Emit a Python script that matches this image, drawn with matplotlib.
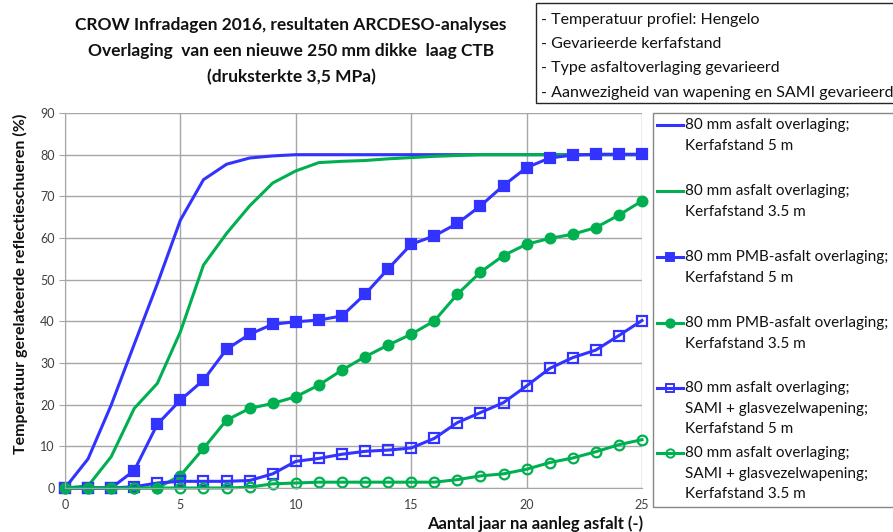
import matplotlib
matplotlib.use("Agg")
import matplotlib.pyplot as plt
from matplotlib.lines import Line2D
from matplotlib.patches import Rectangle

plt.rcParams['font.family'] = ['Lato', 'DejaVu Sans']

# data
years = list(range(26))
asf_5 = [0, 7.0, 19.9, 34.5, 49.0, 64.3, 74.0, 77.7, 79.2, 79.7, 80.0, 80.0, 80.0,
         80.0, 80.0, 80.0, 80.0, 80.0, 80.0, 80.0, 80.0, 80.0, 80.0, 80.0, 80.0, 80.0]
asf_35 = [0, 0.5, 7.5, 19.1, 25.1, 37.5, 53.5, 61.1, 67.7, 73.2, 76.1, 78.1, 78.4,
          78.6, 79.0, 79.3, 79.6, 79.8, 80.0, 80.0, 80.0, 80.0, 80.0, 80.0, 80.0, 80.0]
pmb_5 = [0, 0, 0, 4.2, 15.3, 21.1, 25.9, 33.3, 36.9, 39.3, 39.9, 40.3, 41.3,
         46.5, 52.6, 58.5, 60.5, 63.5, 67.7, 72.6, 76.9, 79.2, 79.9, 80.1, 80.1, 80.1]
pmb_35 = [0, 0, 0, 0, 0, 3.0, 9.5, 16.3, 19.1, 20.3, 21.9, 24.7, 28.3,
          31.5, 34.3, 36.9, 40.1, 46.5, 51.8, 55.8, 58.5, 59.9, 60.9, 62.5, 65.5, 68.9]
sami_5 = [0, 0, 0, 0.3, 1.2, 1.6, 1.6, 1.6, 1.8, 3.4, 6.4, 7.1, 8.1,
          8.8, 9.1, 9.6, 11.9, 15.7, 18.1, 20.5, 24.5, 28.7, 31.3, 33.1, 36.6, 40.2]
sami_35 = [0, 0, 0, 0, 0, 0, 0, 0, 0.2, 1.0, 1.2, 1.4, 1.4,
           1.4, 1.4, 1.4, 1.4, 2.0, 2.9, 3.4, 4.5, 6.1, 7.2, 8.7, 10.4, 11.6]

labels = ["80 mm asfalt overlaging;\nKerfafstand 5 m",
          "80 mm asfalt overlaging;\nKerfafstand 3.5 m",
          "80 mm PMB-asfalt overlaging;\nKerfafstand 5 m",
          "80 mm PMB-asfalt overlaging;\nKerfafstand 3.5 m",
          "80 mm asfalt overlaging;\nSAMI + glasvezelwapening;\nKerfafstand 5 m",
          "80 mm asfalt overlaging;\nSAMI + glasvezelwapening;\nKerfafstand 3.5 m"]
notes = ["- Temperatuur profiel: Hengelo",
         "- Gevarieerde kerfafstand",
         "- Type asfaltoverlaging gevarieerd",
         "- Aanwezigheid van wapening en SAMI gevarieerd"]
title_lines = ["CROW Infradagen 2016, resultaten ARCDESO-analyses",
               "Overlaging  van een nieuwe 250 mm dikke  laag CTB",
               "(druksterkte 3,5 MPa)"]

BLUE = '#3333FF'
GREEN = '#00B050'
styles = [(asf_5, BLUE, None, None),
          (asf_35, GREEN, None, None),
          (pmb_5, BLUE, 's', BLUE),
          (pmb_35, GREEN, 'o', GREEN),
          (sami_5, BLUE, 's', 'none'),
          (sami_35, GREEN, 'o', 'none')]

W, H = 893, 532
fig = plt.figure(figsize=(W / 100, H / 100), dpi=100)

def fx(px):
    return px / W

def fy(py):
    return 1 - py / H

ax = fig.add_axes([fx(65), fy(488), fx(642) - fx(65), fy(113) - fy(488)])

for vals, col, mk, fc in styles:
    ax.plot(years, vals, color=col, lw=2.2, marker=mk, markersize=7,
            markerfacecolor=fc, markeredgecolor=col, markeredgewidth=1.6,
            clip_on=False)

ax.set_xlim(0, 25)
ax.set_ylim(0, 90)
ax.set_xticks(range(0, 26, 5))
ax.set_yticks(range(0, 91, 10))
ax.grid(True, color='#A6A6A6', lw=1)
ax.set_axisbelow(True)
for s in ['top', 'right']:
    ax.spines[s].set_visible(False)
for s in ['left', 'bottom']:
    ax.spines[s].set_color('#A6A6A6')
ax.tick_params(axis='both', colors='#A6A6A6', labelcolor='#404040',
               labelsize=9, length=4)
ax.tick_params(axis='x', length=0, pad=8)

# title and axis labels
for i, t in enumerate(title_lines):
    fig.text(fx(291), fy(25 + 26 * i), t, ha='center', va='center',
             fontsize=12.5, fontweight='bold', color='#111111')
fig.text(fx(535), fy(524), "Aantal jaar na aanleg asfalt (-)", ha='center',
         va='center', fontsize=12, fontweight='bold', color='#111111')
fig.text(fx(20), fy(284), "Temperatuur gerelateerde reflectieschueren (%)",
         ha='center', va='center', rotation=90, fontsize=11.5,
         fontweight='bold', color='#111111')

# notes box
fig.add_artist(Rectangle((fx(536), fy(103)), fx(400), fy(3) - fy(103),
                         transform=fig.transFigure, fill=False,
                         edgecolor='#262626', lw=1))
for i, t in enumerate(notes):
    fig.text(fx(541), fy(20 + 24.2 * i), t, ha='left', va='center',
             fontsize=11.5, color='#111111')

# legend drawn by hand, handle next to first line of each entry
fig.add_artist(Rectangle((fx(653), fy(507)), fx(300), fy(113) - fy(507),
                         transform=fig.transFigure, fill=False,
                         edgecolor='#868686', lw=1))
entry_top = [125, 191, 257, 323, 388, 453]
for (vals, col, mk, fc), lab, yt in zip(styles, labels, entry_top):
    fig.add_artist(Line2D([fx(657), fx(670), fx(683)], [fy(yt)] * 3,
                          transform=fig.transFigure, color=col, lw=2.2,
                          marker=mk, markevery=[1], markersize=6,
                          markerfacecolor=fc, markeredgecolor=col,
                          markeredgewidth=1.4))
    for j, line in enumerate(lab.split('\n')):
        fig.text(fx(685), fy(yt + 20.7 * j), line, ha='left', va='center',
                 fontsize=11, color='#111111')

fig.savefig('out.png', dpi=100)
